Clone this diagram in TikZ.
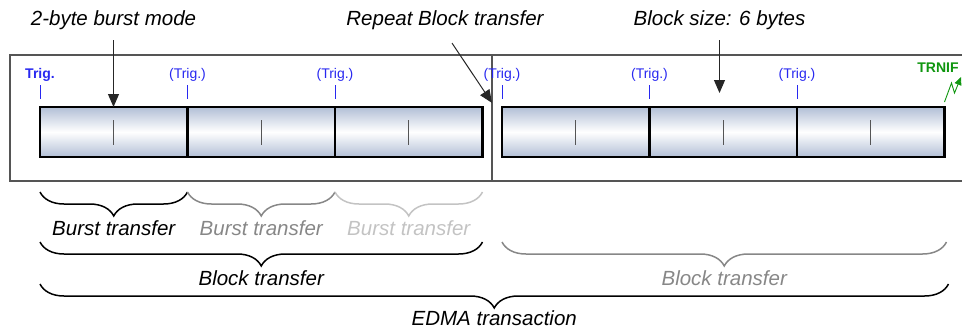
\documentclass[tikz,border=0pt]{standalone}
\usepackage{fontspec}
\setmainfont{Liberation Sans}
\usetikzlibrary{positioning, arrows.meta, decorations.pathreplacing, calc}
\definecolor{trigblue}{RGB}{40,40,240}
\definecolor{trngreen}{RGB}{15,150,15}
\definecolor{cellblue}{RGB}{178,191,214}
\definecolor{midgray}{RGB}{135,135,135}
\definecolor{palegray}{RGB}{195,195,195}
\definecolor{framegray}{RGB}{85,85,85}

\begin{document}
\begin{tikzpicture}[x=1pt, y=-1pt, font=\fontsize{20.5}{24}\selectfont\itshape]

        % Styles
        \tikzstyle{cell} = [draw=black, line width=2.2pt, top color=cellblue, bottom color=cellblue, middle color=white, minimum width=147.5pt, minimum height=50pt, inner sep=0pt, outer sep=0pt]
        \tikzstyle{celltick} = [draw=framegray, line width=1pt]
        \tikzstyle{frame} = [draw=framegray, line width=1.1pt]
        \tikzstyle{trigtick} = [draw=trigblue, line width=0.9pt]
        \tikzstyle{triglabel} = [text=trigblue, font=\fontsize{14}{16}\selectfont]
        \tikzstyle{pointer} = [draw=black!85, line width=1pt, -{Triangle[length=13pt, width=11pt]}]
        \tikzstyle{brace} = [decorate, decoration={brace, mirror, amplitude=24pt}, line width=1.5pt]
        \tikzstyle{bracelabel} = [below=28pt, inner sep=0pt]

        \useasboundingbox (0,0) rectangle (962,330);

        % --- FRAME ---
        \draw[frame] (962,55) -- (10,55) -- (10,181) -- (962,181);
        \coordinate (divtop) at (492,55);
        \coordinate (divbot) at (492,181);
        \draw[frame] (divtop) -- (divbot);

        % --- BLOCKS ---
        \node[cell, anchor=north west] (c1) at (40,107) {};
        \node[cell, right=0pt of c1] (c2) {};
        \node[cell, right=0pt of c2] (c3) {};
        \node[cell, anchor=north west] (c4) at (502,107) {};
        \node[cell, right=0pt of c4] (c5) {};
        \node[cell, right=0pt of c5] (c6) {};
        \foreach \i in {1,...,6} {
            \draw[celltick] ($(c\i.center)+(0,-12)$) -- ($(c\i.center)+(0,13)$);
        }

        % --- TRIGGERS ---
        \foreach \i in {1,...,6} {
            \draw[trigtick] ($(c\i.north west)+(0,-22)$) -- ($(c\i.north west)+(0,-8)$);
        }
        \node[triglabel, font=\fontsize{14}{16}\selectfont\bfseries] (t1) at ($(c1.north west)+(0,-32)$) {Trig.};
        \foreach \i in {2,...,6} {
            \node[triglabel] (t\i) at ($(c\i.north west)+(0,-32)$) {(Trig.)};
        }

        % TRNIF flag
        \node[text=trngreen, font=\fontsize{14}{16}\selectfont\bfseries] (trnif) at (938,68) {TRNIF};
        \coordinate (flagtip) at (961,77);
        \draw[trngreen, line width=0.9pt, -{Triangle[length=8pt, width=7pt]}] ($(c6.north east)+(0,-5)$) -- ++(7,-19) -- ++(3,10) -- (flagtip);

        % --- NOTES ---
        \node (burstnote) at (113.5,20) {2-byte burst mode};
        \node (repeatnote) at (445,20) {Repeat Block transfer};
        \node (sizenote) at (719.5,20) {Block size: 6 bytes};
        \coordinate (repeatend) at ($(divtop)!0.38!(divbot)$);

        \draw[pointer, shorten <=7pt] (burstnote) -- (burstnote |- c1.north);
        \draw[pointer] ($(repeatnote.south)+(7,10)$) -- (repeatend);
        \draw[pointer, shorten <=7pt] (sizenote) -- ($(sizenote |- c5.north)+(0,-14)$);

        % --- BRACES ---
        \draw[brace] ($(c1.south west)+(0,35)$) -- ($(c1.south east)+(0,35)$) node[bracelabel, midway] {Burst transfer};
        \draw[brace, midgray] ($(c2.south west)+(0,35)$) -- ($(c2.south east)+(0,35)$) node[bracelabel, midway] {Burst transfer};
        \draw[brace, palegray] ($(c3.south west)+(0,35)$) -- ($(c3.south east)+(0,35)$) node[bracelabel, midway] {Burst transfer};

        \draw[brace] ($(c1.south west)+(0,85)$) -- ($(c3.south east)+(0,85)$) node[bracelabel, midway] {Block transfer};
        \draw[brace, midgray] ($(c4.south west)+(0,85)$) -- ($(c6.south east)+(2,85)$) node[bracelabel, midway] {Block transfer};

        \draw[brace] ($(c1.south west)+(0,127)$) -- ($(c6.south east)+(4,127)$) node[bracelabel, below=26pt, midway] {EDMA transaction};

    \end{tikzpicture}
\end{document}
